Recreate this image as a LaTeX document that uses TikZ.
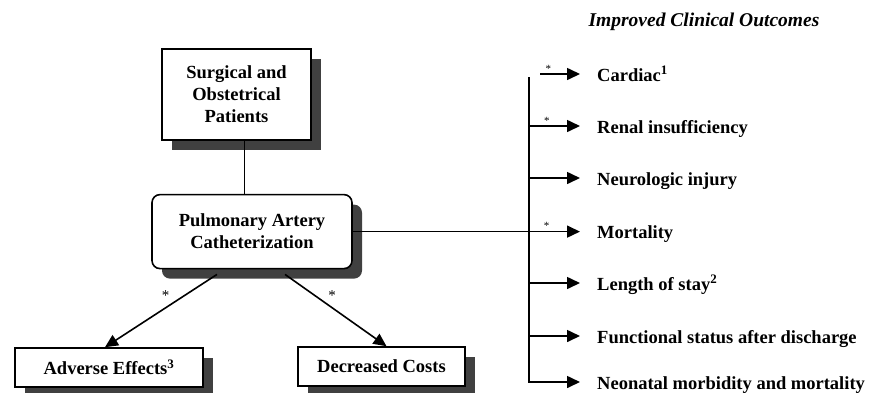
\documentclass[tikz,border=0pt]{standalone}
\usepackage{fontspec}
\setmainfont{Liberation Serif}
\usepackage{tikz}
\usetikzlibrary{arrows.meta, positioning, shadows}

\begin{document}
\begin{tikzpicture}[
        x=1pt, y=-1pt,
        font=\fontsize{18.5}{22}\selectfont\bfseries,
        box/.style={rectangle, draw=black, line width=1.6pt, fill=white, align=center, drop shadow={shadow xshift=10pt, shadow yshift=-10pt, fill=black!75, opacity=1}},
        outcome/.style={anchor=west, inner sep=2pt, text height=14pt, text depth=0pt},
        arrow/.style={-{Triangle[length=13pt, width=12pt]}, line width=1.6pt},
        branch/.style={arrow, shorten >=15pt},
        star/.style={font=\normalfont\fontsize{11}{11}\selectfont, inner sep=1pt},
        bigstar/.style={font=\normalfont\fontsize{15}{15}\selectfont, inner sep=2pt}
    ]
        \useasboundingbox (0,0) rectangle (873,392);

        % left part
        \node[box, minimum width=149pt, minimum height=91pt] (patients) at (236.5,94.5) {Surgical and\\Obstetrical\\Patients};
        \node[box, rounded corners=8pt, minimum width=200pt, minimum height=74pt, below=53pt of patients, xshift=15.5pt] (pac) {Pulmonary Artery\\Catheterization};
        \node[box, minimum width=188pt, minimum height=39pt] (adverse) at (109,367.5) {Adverse Effects\textsuperscript{3}};
        \node[box, minimum width=167pt, minimum height=39pt] (costs) at (381.5,366.5) {Decreased Costs};

        \draw[line width=1.6pt] ([xshift=8pt]patients.south) -- ([xshift=8pt]patients.south |- pac.north);
        \draw[arrow] ([xshift=-35pt, yshift=-5pt]pac.south) -- node[bigstar, pos=0.4, above left] {*} ([xshift=-4pt]adverse.north);
        \draw[arrow] ([xshift=33pt, yshift=-5pt]pac.south) -- node[bigstar, pos=0.4, above right] {*} ([xshift=5pt]costs.north);

        % outcomes
        \node[font=\fontsize{19.5}{22}\selectfont\bfseries\itshape] (title) at (704,22) {Improved Clinical Outcomes};
        \node[outcome] (cardiac) at (595,74) {Cardiac\textsuperscript{1}};
        \node[outcome] (renal) at (595,126) {Renal insufficiency};
        \node[outcome] (neuro) at (595,178) {Neurologic injury};
        \node[outcome] (stay) at (595,283) {Length of stay\textsuperscript{2}};
        \node[outcome] (status) at (595,336) {Functional status after discharge};
        \node[outcome] (neonatal) at (595,382) {Neonatal morbidity and mortality};
        \node[outcome] (mortality) at (pac.east -| status.west) {Mortality};

        \coordinate (bustop) at (529,77);
        \coordinate (cardiacstart) at (540,74);

        \draw[branch] (cardiacstart) -- node[star, pos=0.15, above] {*} (cardiac.west);
        \draw[branch] (bustop) |- (neonatal.west);
        \draw[branch] (bustop |- renal.west) -- node[star, pos=0.27, above] {*} (renal.west);
        \draw[branch] (bustop |- neuro.west) -- (neuro.west);
        \draw[branch] (bustop |- stay.west) -- (stay.west);
        \draw[branch] (bustop |- status.west) -- (status.west);
        \draw[branch] (pac.east) -- node[star, pos=0.8, above] {*} (mortality.west);
    \end{tikzpicture}
\end{document}
